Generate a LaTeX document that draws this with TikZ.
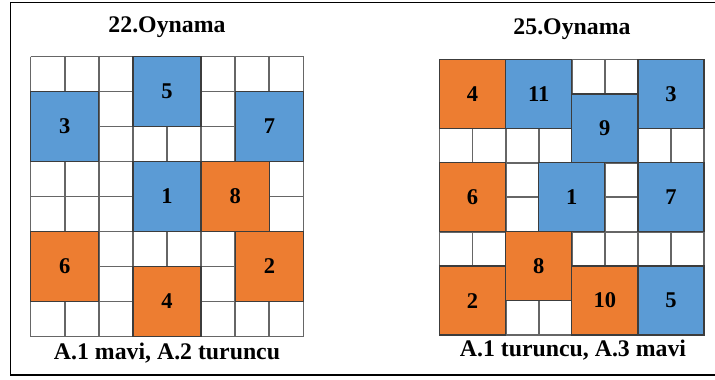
\documentclass[tikz,border=0pt]{standalone}
\usepackage{fontspec}
\setmainfont{Liberation Serif}
\usepackage{xcolor}
\usetikzlibrary{positioning}
\definecolor{kutumavi}{HTML}{5B9BD5}
\definecolor{kututuruncu}{HTML}{ED7D31}
\definecolor{izgaragri}{HTML}{666666}
\definecolor{kenarkoyu}{HTML}{3C3C3C}
\begin{document}
\begin{tikzpicture}[x=1pt,y=-1pt,
  izgara/.style={draw=izgaragri,line width=1.8pt},
  blok/.style={draw=kenarkoyu,line width=1.3pt,inner sep=0pt,font=\fontsize{22.5}{24}\selectfont\bfseries},
  mavikutu/.style={blok,fill=kutumavi},
  turuncukutu/.style={blok,fill=kututuruncu},
  yazi/.style={font=\fontsize{23.8}{26}\selectfont\bfseries,inner sep=0pt}
]
\useasboundingbox (0,0) rectangle (715,380);
\fill[white] (0,0) rectangle (715,380);
\draw[line width=1.5pt] (725,2.5) -- (10.5,2.5) -- (10.5,375) -- (725,375);
% 22. oynama
\begin{scope}[shift={(30.5,56.5)},x=34.125pt,y=-35pt,
  every node/.append style={minimum width=68.25pt,minimum height=70pt}]
  \foreach \i in {0,...,8}
    \draw[izgara] (\i,0) -- (\i,8) (0,\i) -- (8,\i);
  \foreach \c/\r/\n in {3/0/5,0/1/3,6/1/7,3/3/1}
    \node[mavikutu] (a\n) at (\c+1,\r+1) {\n};
  \foreach \c/\r/\n in {5/3/8,0/5/6,6/5/2,3/6/4}
    \node[turuncukutu] (a\n) at (\c+1,\r+1) {\n};
\end{scope}
\node[yazi] (baslik1) at (167,27) {22.Oynama};
\node[yazi] (alt1) at (167,353) {A.1 mavi, A.2 turuncu};
% 25. oynama
\begin{scope}[shift={(439.5,59.5)},x=33.06pt,y=-34.44pt,
  every node/.append style={minimum width=66.12pt,minimum height=68.88pt}]
  \foreach \i in {0,...,8}
    \draw[izgara] (\i,0) -- (\i,8) (0,\i) -- (8,\i);
  \foreach \c/\r/\n in {2/0/11,6/0/3,4/1/9,3/3/1,6/3/7,6/6/5}
    \node[mavikutu] (b\n) at (\c+1,\r+1) {\n};
  \foreach \c/\r/\n in {0/0/4,0/3/6,2/5/8,0/6/2,4/6/10}
    \node[turuncukutu] (b\n) at (\c+1,\r+1) {\n};
\end{scope}
\node[yazi] (baslik2) at (572,29.5) {25.Oynama};
\node[yazi] (alt2) at (573,350.5) {A.1 turuncu, A.3 mavi};
\end{tikzpicture}
\end{document}
